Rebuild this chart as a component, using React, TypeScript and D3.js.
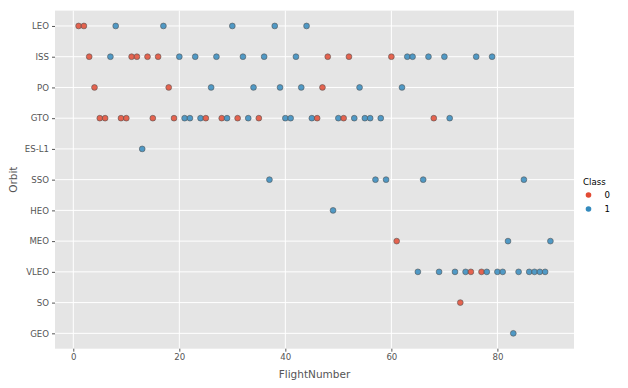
import React, { useRef, useEffect } from 'react';
import * as d3 from 'd3';

const orbits = ['LEO', 'ISS', 'PO', 'GTO', 'ES-L1', 'SSO', 'HEO', 'MEO', 'VLEO', 'SO', 'GEO'];

const flightNumbers = [
  1, 2, 3, 4, 5, 6, 7, 8, 9, 10,
  11, 12, 13, 14, 15, 16, 17, 18, 19, 20,
  21, 22, 23, 24, 25, 26, 27, 28, 29, 30,
  31, 32, 33, 34, 35, 36, 37, 38, 39, 40,
  41, 42, 43, 44, 45, 46, 47, 48, 49, 50,
  51, 52, 53, 54, 55, 56, 57, 58, 59, 60,
  61, 62, 63, 64, 65, 66, 67, 68, 69, 70,
  71, 72, 73, 74, 75, 76, 77, 78, 79, 80,
  81, 82, 83, 84, 85, 86, 87, 88, 89, 90,
];

const flightOrbits = [
  'LEO', 'LEO', 'ISS', 'PO', 'GTO', 'GTO', 'ISS', 'LEO', 'GTO', 'GTO',
  'ISS', 'ISS', 'ES-L1', 'ISS', 'GTO', 'ISS', 'LEO', 'PO', 'GTO', 'ISS',
  'GTO', 'GTO', 'ISS', 'GTO', 'GTO', 'PO', 'ISS', 'GTO', 'GTO', 'LEO',
  'GTO', 'ISS', 'GTO', 'PO', 'GTO', 'ISS', 'SSO', 'LEO', 'PO', 'GTO',
  'GTO', 'ISS', 'PO', 'LEO', 'GTO', 'GTO', 'PO', 'ISS', 'HEO', 'GTO',
  'GTO', 'ISS', 'GTO', 'PO', 'GTO', 'GTO', 'SSO', 'GTO', 'SSO', 'ISS',
  'MEO', 'PO', 'ISS', 'ISS', 'VLEO', 'SSO', 'ISS', 'GTO', 'VLEO', 'ISS',
  'GTO', 'VLEO', 'SO', 'VLEO', 'VLEO', 'ISS', 'VLEO', 'VLEO', 'ISS', 'VLEO',
  'VLEO', 'MEO', 'GEO', 'VLEO', 'SSO', 'VLEO', 'VLEO', 'VLEO', 'VLEO', 'MEO',
];

const flightClass = [
  0, 0, 0, 0, 0, 0, 1, 1, 0, 0,
  0, 0, 1, 0, 0, 0, 1, 0, 0, 1,
  1, 1, 1, 1, 0, 1, 1, 0, 1, 1,
  0, 1, 1, 1, 0, 1, 1, 1, 1, 1,
  1, 1, 1, 1, 1, 0, 0, 0, 1, 1,
  0, 0, 1, 1, 1, 1, 1, 1, 1, 0,
  0, 1, 1, 1, 1, 1, 1, 0, 1, 1,
  1, 1, 0, 1, 0, 1, 0, 1, 1, 1,
  1, 1, 1, 1, 1, 1, 1, 1, 1, 1,
];

const classLabels = ['0', '1'];
const classColors = ['#E24A33', '#348ABD'];
const xTicks = [0, 20, 40, 60, 80];

const W = 628;
const H = 388;
const margin = { top: 10.6, right: 54, bottom: 39.3, left: 55 };

export default function App() {
  const ref = useRef<SVGSVGElement>(null);

  useEffect(() => {
    document.body.style.margin = '0';
    const svg = d3.select(ref.current);
    svg.selectAll('*').remove();

    const font = 'DejaVu Sans, sans-serif';
    const x0 = margin.left;
    const x1 = W - margin.right;
    const y0 = margin.top;
    const y1 = H - margin.bottom;

    const x = d3.scaleLinear().domain([-3.45, 94.45]).range([x0, x1]);
    const y = d3.scaleLinear().domain([-0.5, orbits.length - 0.5]).range([y0, y1]);
    const yPos = (o: string) => y(orbits.indexOf(o));

    svg.append('rect')
      .attr('x', x0).attr('y', y0)
      .attr('width', x1 - x0).attr('height', y1 - y0)
      .attr('fill', '#E5E5E5');

    const grid = svg.append('g');
    xTicks.forEach(t => {
      grid.append('line')
        .attr('x1', x(t)).attr('x2', x(t))
        .attr('y1', y0).attr('y2', y1)
        .attr('stroke', '#fff').attr('stroke-width', 1);
    });
    orbits.forEach((o, i) => {
      grid.append('line')
        .attr('x1', x0).attr('x2', x1)
        .attr('y1', y(i)).attr('y2', y(i))
        .attr('stroke', '#fff').attr('stroke-width', 1);
    });

    // x axis
    const xa = svg.append('g').attr('transform', `translate(0,${y1})`)
      .call(d3.axisBottom(x).tickValues(xTicks).tickSize(3).tickPadding(2).tickFormat(d3.format('d')));
    xa.select('.domain').remove();
    xa.selectAll('line').attr('stroke', '#555');
    xa.selectAll('text').attr('fill', '#555').attr('font-size', 8.6).attr('font-family', font);

    // y axis
    const ya = svg.append('g').attr('transform', `translate(${x0},0)`)
      .call(d3.axisLeft(y).tickValues(d3.range(orbits.length)).tickSize(3).tickPadding(3)
        .tickFormat(d => orbits[d as number]));
    ya.select('.domain').remove();
    ya.selectAll('line').attr('stroke', '#555');
    ya.selectAll('text').attr('fill', '#555').attr('font-size', 8.6).attr('font-family', font);

    svg.append('text')
      .attr('x', (x0 + x1) / 2).attr('y', 378)
      .attr('text-anchor', 'middle')
      .attr('fill', '#555').attr('font-size', 10.5).attr('font-family', font)
      .text('FlightNumber');

    svg.append('text')
      .attr('transform', `translate(17,${(y0 + y1) / 2}) rotate(-90)`)
      .attr('text-anchor', 'middle')
      .attr('fill', '#555').attr('font-size', 10.5).attr('font-family', font)
      .text('Orbit');

    svg.append('g')
      .selectAll('circle')
      .data(flightNumbers)
      .join('circle')
      .attr('cx', d => x(d))
      .attr('cy', (d, i) => yPos(flightOrbits[i]))
      .attr('r', 2.9)
      .attr('fill', (d, i) => classColors[flightClass[i]])
      .attr('fill-opacity', 0.85)
      .attr('stroke', '#555')
      .attr('stroke-width', 0.6);

    // legend
    const lg = svg.append('g');
    lg.append('text')
      .attr('x', 583).attr('y', 185)
      .attr('fill', '#000').attr('font-size', 8.6).attr('font-family', font)
      .text('Class');
    classLabels.forEach((c, i) => {
      lg.append('circle')
        .attr('cx', 588.5).attr('cy', 195 + i * 14)
        .attr('r', 2.8)
        .attr('fill', classColors[i]);
      lg.append('text')
        .attr('x', 604.5).attr('y', 198 + i * 14)
        .attr('fill', '#000').attr('font-size', 8.6).attr('font-family', font)
        .text(c);
    });
  }, []);

  return <svg ref={ref} width={W} height={H} style={{ display: 'block', background: '#fff' }} />;
}
